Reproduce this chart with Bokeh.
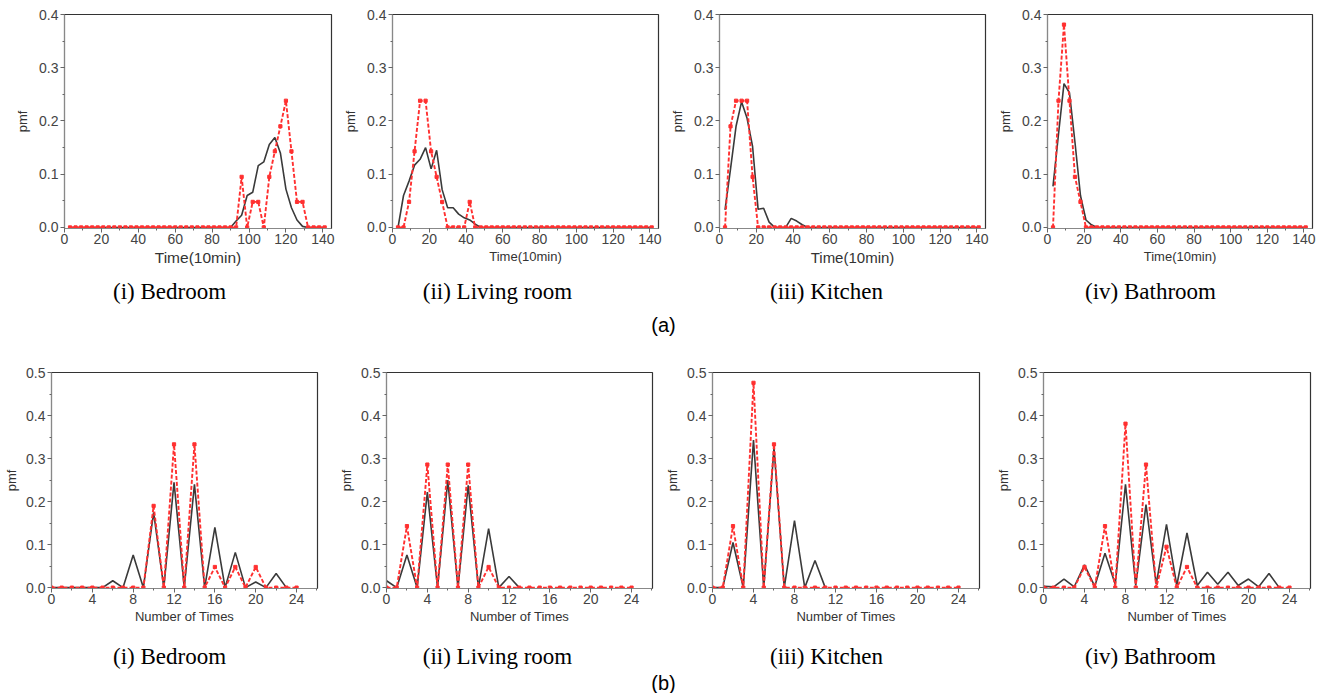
from bokeh.plotting import figure
from bokeh.layouts import column, row
from bokeh.models import Range1d, SingleIntervalTicker, PrintfTickFormatter
from bokeh.embed import file_html
from bokeh.resources import INLINE
from bokeh.core.properties import value

# ---------------- data ----------------
TIME_X = [3, 6, 9, 12, 15, 18, 21, 24, 27, 30,
          33, 36, 39, 42, 45, 48, 51, 54, 57, 60,
          63, 66, 69, 72, 75, 78, 81, 84, 87, 90,
          93, 96, 99, 102, 105, 108, 111, 114, 117, 120,
          123, 126, 129, 132, 135, 138, 141]

COUNT_X = [0, 1, 2, 3, 4, 5, 6, 7, 8, 9, 10, 11, 12,
           13, 14, 15, 16, 17, 18, 19, 20, 21, 22, 23, 24]

# (a) duration pmf : red = observed, black = model
BED_T_RED = [0, 0, 0, 0, 0, 0, 0, 0, 0, 0,
             0, 0, 0, 0, 0, 0, 0, 0, 0, 0,
             0, 0, 0, 0, 0, 0, 0, 0, 0, 0,
             0, 0.095, 0, 0.048, 0.048, 0, 0.095, 0.143, 0.19, 0.238,
             0.143, 0.048, 0.048, 0, 0, 0, 0]
BED_T_BLK = [0, 0, 0, 0, 0, 0, 0, 0, 0, 0,
             0, 0, 0, 0, 0, 0, 0, 0, 0, 0,
             0, 0, 0, 0, 0, 0, 0, 0, 0, 0,
             0.012, 0.023, 0.06, 0.066, 0.116, 0.123, 0.156, 0.169, 0.14, 0.072,
             0.037, 0.014, 0.002, 0, 0, 0, 0]

LIV_T_RED = [0, 0, 0.048, 0.143, 0.238, 0.238, 0.143, 0.095, 0.048, 0,
             0, 0, 0, 0.048, 0, 0, 0, 0, 0, 0,
             0, 0, 0, 0, 0, 0, 0, 0, 0, 0,
             0, 0, 0, 0, 0, 0, 0, 0, 0, 0,
             0, 0, 0, 0, 0, 0, 0]
LIV_T_BLK = [0, 0.06, 0.087, 0.117, 0.128, 0.15, 0.11, 0.145, 0.071, 0.037,
             0.037, 0.025, 0.018, 0.014, 0.006, 0, 0, 0, 0, 0,
             0, 0, 0, 0, 0, 0, 0, 0, 0, 0,
             0, 0, 0, 0, 0, 0, 0, 0, 0, 0,
             0, 0, 0, 0, 0, 0, 0]

KIT_T_RED = [0, 0.19, 0.238, 0.238, 0.238, 0.095, 0, 0, 0, 0,
             0, 0, 0, 0, 0, 0, 0, 0, 0, 0,
             0, 0, 0, 0, 0, 0, 0, 0, 0, 0,
             0, 0, 0, 0, 0, 0, 0, 0, 0, 0,
             0, 0, 0, 0, 0, 0, 0]
KIT_T_BLK = [0.033, 0.11, 0.19, 0.236, 0.205, 0.152, 0.034, 0.036, 0.01, 0,
             0, 0, 0.017, 0.012, 0.005, 0, 0, 0, 0, 0,
             0, 0, 0, 0, 0, 0, 0, 0, 0, 0,
             0, 0, 0, 0, 0, 0, 0, 0, 0, 0,
             0, 0, 0, 0, 0, 0, 0]

BATH_T_RED = [0, 0.238, 0.381, 0.238, 0.095, 0.048, 0, 0, 0, 0,
              0, 0, 0, 0, 0, 0, 0, 0, 0, 0,
              0, 0, 0, 0, 0, 0, 0, 0, 0, 0,
              0, 0, 0, 0, 0, 0, 0, 0, 0, 0,
              0, 0, 0, 0, 0, 0, 0]
BATH_T_BLK = [0.077, 0.175, 0.27, 0.253, 0.16, 0.06, 0.014, 0.005, 0, 0,
              0, 0, 0, 0, 0, 0, 0, 0, 0, 0,
              0, 0, 0, 0, 0, 0, 0, 0, 0, 0,
              0, 0, 0, 0, 0, 0, 0, 0, 0, 0,
              0, 0, 0, 0, 0, 0, 0]

# (b) number-of-times pmf
BED_N_RED = [0, 0, 0, 0, 0, 0, 0, 0, 0, 0, 0.19, 0, 0.333,
             0, 0.333, 0, 0.048, 0, 0.048, 0, 0.048, 0, 0, 0, 0]
BED_N_BLK = [0, 0, 0, 0, 0, 0, 0.016, 0, 0.076, 0, 0.175, 0, 0.245,
             0, 0.24, 0, 0.14, 0, 0.082, 0, 0.013, 0, 0.033, 0]

LIV_N_RED = [0, 0, 0.143, 0, 0.286, 0, 0.286, 0, 0.286, 0, 0.048, 0, 0,
             0, 0, 0, 0, 0, 0, 0, 0, 0, 0, 0, 0]
LIV_N_BLK = [0.016, 0, 0.076, 0, 0.222, 0, 0.25, 0, 0.238, 0, 0.137, 0, 0.026, 0]

KIT_N_RED = [0, 0, 0.143, 0, 0.476, 0, 0.333, 0, 0, 0, 0, 0, 0,
             0, 0, 0, 0, 0, 0, 0, 0, 0, 0, 0, 0]
KIT_N_BLK = [0, 0, 0.105, 0, 0.343, 0, 0.325, 0, 0.156, 0, 0.063, 0]

BATH_N_RED = [0, 0, 0, 0, 0.048, 0, 0.143, 0, 0.381, 0, 0.286, 0, 0.095,
              0, 0.048, 0, 0, 0, 0, 0, 0, 0, 0, 0, 0]
BATH_N_BLK = [0.003, 0.002, 0.02, 0.002, 0.053, 0.003, 0.08, 0.008, 0.24, 0.005, 0.193, 0.008, 0.147,
              0.005, 0.127, 0.005, 0.036, 0.008, 0.036, 0.005, 0.02, 0.002, 0.033, 0]

ROOM_CAPTIONS = ["(i) Bedroom", "(ii) Living room", "(iii) Kitchen", "(iv) Bathroom"]
GROUP_LABELS = ["(a)", "(b)"]
TIME_LABEL = "Time(10min)"
COUNT_LABEL = "Number of Times"
Y_LABEL = "pmf"

RED = "#ff3030"
BLACK = "#3a3a3a"
FONT = "Liberation Sans"


def panel(xs, red, blk, width, left, right, top, height, frame_h,
          x_end, x_int, y_end, xlabel, xlabel_size, tick_size, ylab_stand):
    p = figure(width=width, height=height,
               x_range=Range1d(0, x_end), y_range=Range1d(-0.002, y_end),
               toolbar_location=None, output_backend="svg",
               min_border_left=left, min_border_right=right,
               min_border_top=top, min_border_bottom=height - top - frame_h)
    p.grid.visible = False
    p.outline_line_color = "#333333"
    p.outline_line_width = 1.2
    p.xaxis.ticker = SingleIntervalTicker(interval=x_int, num_minor_ticks=2)
    p.yaxis.ticker = SingleIntervalTicker(interval=0.1, num_minor_ticks=2)
    p.yaxis.formatter = PrintfTickFormatter(format="%.1f")
    for ax in (p.xaxis, p.yaxis):
        ax.axis_line_color = "#888888"
        ax.major_tick_line_color = "#666666"
        ax.minor_tick_line_color = "#666666"
        ax.major_tick_out = 4
        ax.major_tick_in = 0
        ax.minor_tick_out = 2
        ax.minor_tick_in = 0
        ax.major_label_text_font = FONT
        ax.major_label_text_font_size = tick_size
        ax.major_label_text_color = "#444444"
        ax.axis_label_text_font = FONT
        ax.axis_label_text_font_style = "normal"
        ax.axis_label_text_color = "#333333"
    p.xaxis.axis_label = xlabel
    p.xaxis.axis_label_text_font_size = xlabel_size
    p.xaxis.major_label_standoff = 1
    p.xaxis.axis_label_standoff = 2
    p.yaxis.axis_label = Y_LABEL
    p.yaxis.axis_label_text_font_size = "13px"
    p.yaxis.major_label_standoff = 2
    p.yaxis.axis_label_standoff = ylab_stand
    p.line(xs[:len(blk)], blk, line_color=BLACK, line_width=1.6)
    p.line(xs[:len(red)], red, line_color=RED, line_width=1.9, line_dash="4 2")
    p.scatter(xs[:len(red)], red, marker="square", size=3.2,
              fill_color=RED, line_color=RED)
    return p


top_series = [(BED_T_RED, BED_T_BLK), (LIV_T_RED, LIV_T_BLK),
              (KIT_T_RED, KIT_T_BLK), (BATH_T_RED, BATH_T_BLK)]
bot_series = [(BED_N_RED, BED_N_BLK), (LIV_N_RED, LIV_N_BLK),
              (KIT_N_RED, KIT_N_BLK), (BATH_N_RED, BATH_N_BLK)]

top_w = [339, 327, 327, 331]
top_l = [64, 53, 53, 54]
top_r = [8, 8, 8, 12]
top_lab = ["15.5px", "13px", "15px", "13px"]
bot_w = [325, 335, 327, 337]
bot_l = [51, 61, 52, 56]
bot_r = [8, 8, 8, 14]

top_figs = [panel(TIME_X, r, b, top_w[i], top_l[i], top_r[i], 14, 276, 214,
                  144.7, 20, 0.4, TIME_LABEL, top_lab[i], "14px", 6)
            for i, (r, b) in enumerate(top_series)]
bot_figs = [panel(COUNT_X, r, b, bot_w[i], bot_l[i], bot_r[i], 34, 292, 216,
                  26.05, 4, 0.5, COUNT_LABEL, "13px", "14px", 4)
            for i, (r, b) in enumerate(bot_series)]

CAP_X = [169, 497, 826, 1150]
GROUP_X = 663
TOTAL_W = 1324


def caption(h, cap_y, grp_y, grp_label):
    c = figure(width=TOTAL_W, height=h, x_range=Range1d(0, TOTAL_W),
               y_range=Range1d(h, 0), toolbar_location=None,
               output_backend="svg", x_axis_location=None, y_axis_location=None,
               min_border=0)
    c.outline_line_color = None
    c.grid.visible = False
    c.text(x=CAP_X, y=[cap_y] * len(CAP_X), text=ROOM_CAPTIONS,
           text_font=value("Liberation Serif"), text_font_size="23px",
           text_align="center", text_baseline="middle", text_color="black")
    c.text(x=[GROUP_X], y=[grp_y], text=[grp_label],
           text_font=value(FONT), text_font_size="20px",
           text_align="center", text_baseline="middle", text_color="black")
    return c


cap_a = caption(62, 15, 48, GROUP_LABELS[0])
cap_b = caption(63, 26, 52, GROUP_LABELS[1])

layout = column(row(*top_figs), cap_a, row(*bot_figs), cap_b)

open("out.html", "w").write(file_html(layout, INLINE))
